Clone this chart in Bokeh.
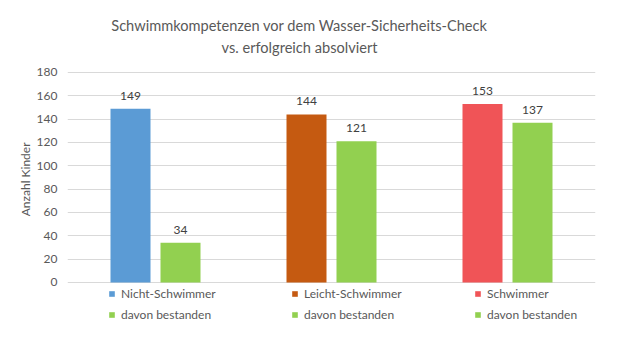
from bokeh.plotting import figure
from bokeh.models import (ColumnDataSource, Legend, LegendItem, Title, FixedTicker, FactorRange,
                          Range1d, Label)
from bokeh.core.properties import value
from bokeh.transform import dodge
from bokeh.embed import file_html
from bokeh.resources import INLINE

categories = ["Nicht-Schwimmer", "Leicht-Schwimmer", "Schwimmer"]
before_values = [149, 144, 153]
passed_values = [34, 121, 137]
before_colors = ["#5B9BD5", "#C55A11", "#F05457"]
passed_color = "#92D050"
passed_label = "davon bestanden"
y_ticks = [0, 20, 40, 60, 80, 100, 120, 140, 160, 180]
title_lines = ["Schwimmkompetenzen vor dem Wasser-Sicherheits-Check", "vs. erfolgreich absolviert"]
y_label = "Anzahl Kinder"

FONT = "Lato"
GRAY = "#595959"

src = ColumnDataSource(dict(
    cat=categories,
    before=before_values,
    passed=passed_values,
    bcol=before_colors,
    btxt=[str(v) for v in before_values],
    ptxt=[str(v) for v in passed_values],
))

# frame spans 0..343 px; value axis 0..180 occupies 282..72 px,
# space above holds the title, space below holds the legend
p = figure(width=618, height=351, x_range=FactorRange(*categories), y_range=Range1d(-52.3, 241.7),
           output_backend="svg", toolbar_location=None,
           min_border_left=67, min_border_right=23, min_border_top=0, min_border_bottom=8)
p.title.visible = False
p.outline_line_color = None
p.background_fill_color = "white"
p.border_fill_color = "white"

bw = 40 / 176
off = 25 / 176
r1 = p.vbar(x=dodge("cat", -off, range=p.x_range), top="before", width=bw, source=src,
            fill_color="bcol", line_color=None)
r2 = p.vbar(x=dodge("cat", off, range=p.x_range), top="passed", width=bw, source=src,
            fill_color=passed_color, line_color=None)

p.text(x=dodge("cat", -off, range=p.x_range), y="before", text="btxt", source=src,
       text_align="center", text_baseline="bottom", y_offset=-9,
       text_font=value(FONT), text_font_size="12px", text_color="#404040")
p.text(x=dodge("cat", off, range=p.x_range), y="passed", text="ptxt", source=src,
       text_align="center", text_baseline="bottom", y_offset=-9,
       text_font=value(FONT), text_font_size="12px", text_color="#404040")

p.xaxis.visible = False
p.xgrid.grid_line_color = None
p.ygrid.grid_line_color = "#D9D9D9"
p.yaxis.ticker = FixedTicker(ticks=y_ticks)
p.yaxis.axis_line_color = None
p.yaxis.major_tick_line_color = None
p.yaxis.minor_tick_line_color = None
p.yaxis.major_tick_out = 0
p.yaxis.major_tick_in = 0
p.yaxis.major_label_standoff = 10
p.yaxis.major_label_text_font = FONT
p.yaxis.major_label_text_font_size = "12px"
p.yaxis.major_label_text_color = GRAY

p.add_layout(Title(text=y_label, align="right", offset=142, standoff=2, text_font=FONT,
                   text_font_size="12px", text_font_style="normal", text_color=GRAY), "left")

items = []
for i, c in enumerate(categories):
    items.append(LegendItem(label=c, renderers=[r1], index=i))
    items.append(LegendItem(label=passed_label, renderers=[r2], index=i))
legend = Legend(items=items, nrows=2, orientation="vertical", location=(41, 21),
                glyph_width=7, glyph_height=7, label_width=164, label_height=15, spacing=6,
                label_standoff=6, label_text_font=FONT, label_text_font_size="12px",
                label_text_color=GRAY, border_line_color=None, background_fill_alpha=0,
                margin=0, padding=5)
p.add_layout(legend, "center")

for line, ypos in zip(title_lines, (318, 296)):
    p.add_layout(Label(text=line, x=232, y=ypos, x_units="screen", y_units="screen",
                       text_align="center", text_baseline="middle", text_font=FONT,
                       text_font_size="14.6px", text_color=GRAY))

open("out.html", "w").write(file_html(p, INLINE))
